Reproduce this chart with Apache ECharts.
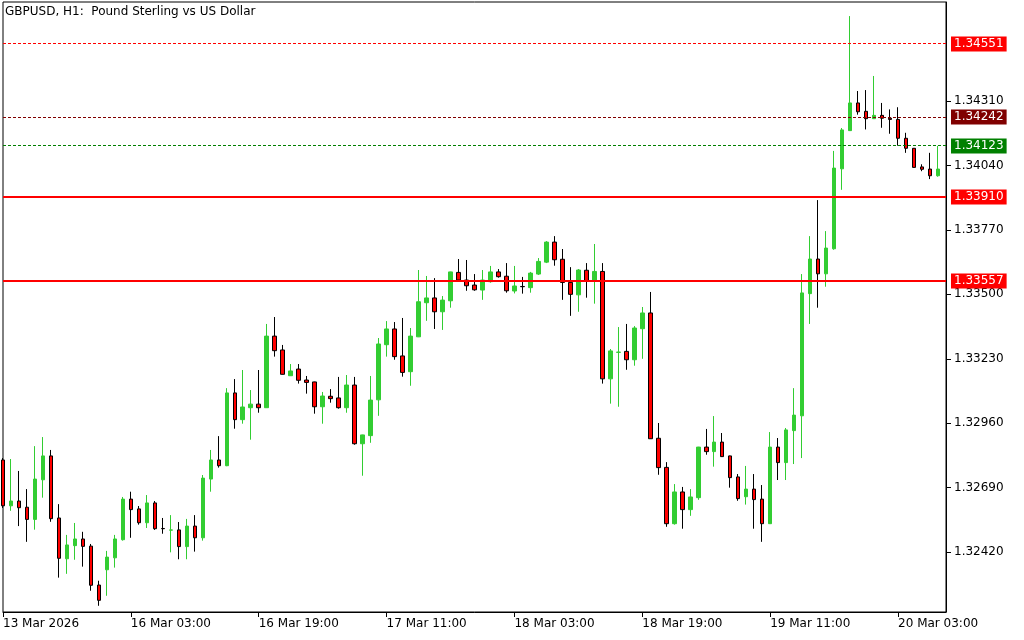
<!DOCTYPE html>
<html><head><meta charset="utf-8">
<script src="https://cdn.jsdelivr.net/npm/echarts@6/dist/echarts.min.js"></script>
<style>html,body{margin:0;padding:0;background:#fff}#c{width:1024px;height:640px}</style>
</head><body><div id="c"></div>
<script>
const titleText = 'GBPUSD, H1:  Pound Sterling vs US Dollar';

// Bar times: first bar 13 Mar 11:00, hourly, trading days only
const sessionDays = [13, 16, 17, 18, 19, 20];
const firstHour = 11;
const xTickLabels = ['13 Mar 2026','16 Mar 03:00','16 Mar 19:00','17 Mar 11:00','18 Mar 03:00','18 Mar 19:00','19 Mar 11:00','20 Mar 03:00'];
const xTickEvery = 16;

const opens = [
1.32806,1.32614,1.32634,1.32608,1.32557,1.32723,1.32823,1.32563,1.32392,1.32447,
1.32475,1.32445,1.32282,1.32346,1.32396,1.32472,1.32642,1.32601,1.32543,1.32626,
1.32519,1.32512,1.32513,1.32443,1.32529,1.32480,1.32726,1.32806,1.32782,1.33087,
1.32975,1.33025,1.33040,1.33025,1.33325,1.33267,1.33159,1.33187,1.33141,1.33133,
1.33029,1.33073,1.33066,1.33025,1.33120,1.32874,1.32908,1.33058,1.33289,1.33355,
1.33242,1.33176,1.33322,1.33465,1.33485,1.33427,1.33473,1.33592,1.33560,1.33539,
1.33518,1.33553,1.33594,1.33576,1.33514,1.33533,1.33528,1.33585,1.33635,1.33719,
1.33647,1.33550,1.33498,1.33601,1.33555,1.33596,1.33146,1.33257,1.33261,1.33226,
1.33356,1.33422,1.32897,1.32775,1.32539,1.32672,1.32598,1.32648,1.32860,1.32841,
1.32881,1.32823,1.32735,1.32652,1.32684,1.32642,1.32539,1.32860,1.32795,1.32929,
1.32991,1.33503,1.33648,1.33586,1.33691,1.34026,1.34186,1.34302,1.34267,1.34236,
1.34250,1.34238,1.34233,1.34154,1.34112,1.34034,1.34025,1.33997];
const closes = [
1.32614,1.32634,1.32606,1.32557,1.32726,1.32823,1.32560,1.32394,1.32450,1.32475,
1.32444,1.32281,1.32218,1.32399,1.32475,1.32642,1.32598,1.32543,1.32626,1.32518,
1.32518,1.32513,1.32443,1.32529,1.32480,1.32730,1.32806,1.32782,1.33087,1.32975,
1.33028,1.33040,1.33025,1.33325,1.33264,1.33165,1.33179,1.33140,1.33131,1.33029,
1.33074,1.33063,1.33025,1.33120,1.32874,1.32911,1.33057,1.33292,1.33355,1.33239,
1.33173,1.33325,1.33469,1.33485,1.33427,1.33476,1.33594,1.33560,1.33536,1.33519,
1.33560,1.33594,1.33574,1.33515,1.33535,1.33532,1.33589,1.33638,1.33719,1.33645,
1.33550,1.33500,1.33602,1.33555,1.33596,1.33146,1.33263,1.33258,1.33226,1.33359,
1.33422,1.32895,1.32774,1.32539,1.32672,1.32598,1.32651,1.32860,1.32841,1.32881,
1.32820,1.32732,1.32644,1.32684,1.32640,1.32539,1.32860,1.32795,1.32932,1.32994,
1.33506,1.33648,1.33586,1.33694,1.34029,1.34189,1.34302,1.34265,1.34236,1.34250,
1.34238,1.34233,1.34154,1.34112,1.34032,1.34024,1.33997,1.34025];
const lows = [
1.32605,1.32593,1.32529,1.32463,1.32514,1.32648,1.32547,1.32313,1.32329,1.32388,
1.32359,1.32258,1.32195,1.32237,1.32355,1.32468,1.32480,1.32535,1.32521,1.32513,
1.32497,1.32419,1.32390,1.32390,1.32422,1.32468,1.32673,1.32774,1.32780,1.32937,
1.32958,1.32891,1.33004,1.33024,1.33239,1.33164,1.33158,1.33126,1.33084,1.33000,
1.32958,1.33046,1.33021,1.33004,1.32870,1.32740,1.32878,1.32991,1.33239,1.33226,
1.33155,1.33117,1.33321,1.33389,1.33355,1.33351,1.33444,1.33559,1.33515,1.33515,
1.33477,1.33549,1.33570,1.33507,1.33504,1.33503,1.33507,1.33581,1.33631,1.33620,
1.33477,1.33410,1.33427,1.33486,1.33461,1.33126,1.33042,1.33029,1.33184,1.33201,
1.33230,1.32894,1.32744,1.32526,1.32535,1.32518,1.32572,1.32639,1.32828,1.32778,
1.32819,1.32690,1.32635,1.32619,1.32518,1.32463,1.32538,1.32722,1.32722,1.32789,
1.32814,1.33376,1.33444,1.33532,1.33687,1.33938,1.34185,1.34253,1.34191,1.34235,
1.34198,1.34173,1.34123,1.34093,1.34031,1.34016,1.33983,1.33993];
const highs = [
1.32814,1.32810,1.32760,1.32684,1.32864,1.32902,1.32848,1.32621,1.32492,1.32542,
1.32505,1.32454,1.32300,1.32425,1.32492,1.32651,1.32673,1.32613,1.32659,1.32634,
1.32563,1.32575,1.32546,1.32559,1.32575,1.32743,1.32848,1.32906,1.33107,1.33145,
1.33183,1.33099,1.33183,1.33376,1.33405,1.33288,1.33208,1.33208,1.33158,1.33134,
1.33091,1.33103,1.33154,1.33162,1.33154,1.32912,1.33158,1.33317,1.33388,1.33384,
1.33401,1.33359,1.33602,1.33577,1.33568,1.33493,1.33595,1.33648,1.33644,1.33585,
1.33602,1.33619,1.33606,1.33631,1.33619,1.33573,1.33594,1.33652,1.33723,1.33744,
1.33690,1.33614,1.33606,1.33631,1.33711,1.33631,1.33271,1.33363,1.33376,1.33367,
1.33447,1.33510,1.32961,1.32797,1.32705,1.32693,1.32684,1.32861,1.32936,1.32990,
1.32919,1.32824,1.32747,1.32781,1.32747,1.32701,1.32923,1.32898,1.32940,1.33107,
1.33585,1.33744,1.33895,1.33765,1.34101,1.34197,1.34666,1.34352,1.34356,1.34415,
1.34302,1.34275,1.34284,1.34177,1.34113,1.34045,1.34093,1.34122];

const yTicks = [1.32420, 1.32690, 1.32960, 1.33230, 1.33500, 1.33770, 1.34040, 1.34310];
const yMin = 1.32169, yMax = 1.34725;

const levels = [1.34551, 1.34242, 1.34123, 1.33910, 1.33557];
const levelColors = ['#ff0000', '#800000', '#008000', '#ff0000', '#ff0000'];
const levelDash = [[3,2], [3,2], [3,2], null, null];
const levelWidths = [1, 1, 1, 2, 2];

// categories
const categories = [];
(function(){
  let started = false;
  for (const d of sessionDays) {
    for (let h = 0; h < 24; h++) {
      if (!started) { if (d === sessionDays[0] && h === firstHour) started = true; else continue; }
      if (categories.length < opens.length) categories.push(d + ' Mar ' + String(h).padStart(2,'0') + ':00');
    }
  }
  categories.push('');
})();

const ohlc = opens.map((o, i) => [o, closes[i], lows[i], highs[i]]);
const FONT = 'DejaVu Sans';

const chart = echarts.init(document.getElementById('c'), null, {renderer: 'canvas'});
chart.setOption({
  animation: false,
  backgroundColor: '#ffffff',
  title: {
    text: titleText, left: 5, top: 6, padding: 0,
    textStyle: {fontFamily: FONT, fontSize: 12, fontWeight: 'normal', color: '#000'}
  },
  grid: {
    left: 2, right: 78, top: 2, bottom: 28,
    show: true, borderColor: '#000', borderWidth: 1, backgroundColor: '#fff'
  },
  xAxis: {
    type: 'category',
    data: categories,
    boundaryGap: false,
    axisLine: {show: true, lineStyle: {color: '#000', width: 1}},
    axisTick: {show: true, length: 5, lineStyle: {color: '#000'}, interval: (i) => i % xTickEvery === 0 && i < opens.length},
    axisLabel: {
      interval: (i) => i % xTickEvery === 0 && i < opens.length,
      formatter: (v, i) => xTickLabels[Math.round(i / xTickEvery)] || '',
      align: 'left', margin: 6,
      color: '#000', fontFamily: FONT, fontSize: 12
    },
    splitLine: {show: false}
  },
  yAxis: {
    type: 'value',
    position: 'right',
    min: yMin, max: yMax,
    scale: true,
    axisLine: {show: true, lineStyle: {color: '#000', width: 1}},
    axisTick: {show: true, length: 5, lineStyle: {color: '#000'}, customValues: yTicks},
    axisLabel: {
      customValues: yTicks,
      formatter: (v) => v.toFixed(5),
      margin: 8, color: '#000', fontFamily: FONT, fontSize: 12
    },
    splitLine: {show: false}
  },
  series: [{
    type: 'candlestick',
    data: ohlc,
    barWidth: 4,
    clip: true,
    silent: true,
    z: 2,
    itemStyle: {
      color: '#32cd32', color0: '#ff0000',
      borderColor: '#32cd32', borderColor0: '#000000',
      borderWidth: 1
    },
    emphasis: {disabled: true}
  }, {
    type: 'custom',
    name: 'levels',
    coordinateSystem: 'cartesian2d',
    clip: false,
    silent: true,
    z: 5,
    data: levels.map((v) => [0, v]),
    encode: {x: 0, y: 1},
    renderItem: function (params, api) {
      const cs = params.coordSys;
      const i = params.dataIndex;
      const v = api.value(1);
      const y = api.coord([0, v])[1];
      const w = levelWidths[i];
      const col = levelColors[i];
      const top = Math.round(y - w / 2);
      const children = [];
      const dash = levelDash[i];
      if (dash) {
        for (let x = cs.x; x < cs.x + cs.width; x += dash[0] + dash[1]) {
          children.push({
            type: 'rect',
            shape: {x: x, y: top, width: Math.min(dash[0], cs.x + cs.width - x), height: w},
            style: {fill: col}
          });
        }
      } else {
        children.push({
          type: 'rect',
          shape: {x: cs.x, y: top, width: cs.width, height: w},
          style: {fill: col}
        });
      }
      children.push({
        type: 'text',
        x: cs.x + cs.width + 5,
        y: Math.round(y),
        style: {
          text: v.toFixed(5),
          fill: '#ffffff',
          backgroundColor: col,
          padding: [2, 3, 1, 3],
          font: '12px "DejaVu Sans"',
          align: 'left',
          verticalAlign: 'middle'
        }
      });
      return {type: 'group', children: children};
    }
  }]
});
</script>
</body></html>
